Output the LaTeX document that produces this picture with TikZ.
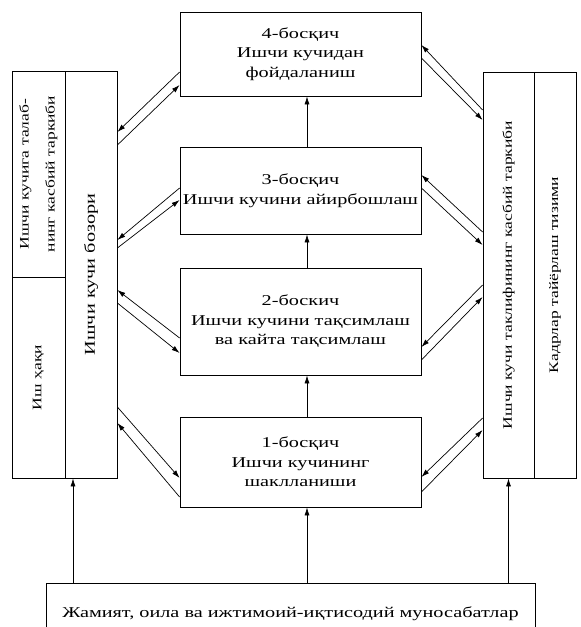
\documentclass[tikz,border=0pt]{standalone}
\usepackage{fontspec}
\setmainfont[FakeStretch=1.35]{Liberation Serif}
\usepackage{graphicx}
\usetikzlibrary{arrows.meta}

\tikzset{
  stagebox/.style={draw, line width=0.8pt, minimum width=241pt, inner sep=2pt,
    align=center, font=\fontsize{15}{19.5}\selectfont},
  sidebox/.style={draw, line width=0.8pt, inner sep=0pt,
    font=\fontsize{13}{16}\selectfont},
  link/.style={line width=0.7pt, -{Latex[length=8pt,width=5pt]}}
}

\begin{document}
\begin{tikzpicture}[x=1pt,y=-1pt]
  \useasboundingbox (0,0) rectangle (581,627);
  \clip (0,0) rectangle (581,627);
  % stages
  \node[stagebox, minimum height=84pt] (s4) at (300.5,54) {4-босқич\\Ишчи кучидан\\фойдаланиш};
  \node[stagebox, minimum height=87pt] (s3) at (300.5,190.5) {3-босқич\\Ишчи кучини айирбошлаш};
  \node[stagebox, minimum height=107pt] (s2) at (300.5,321.5) {2-боскич\\Ишчи кучини тақсимлаш\\ва кайта тақсимлаш};
  \node[stagebox, minimum height=90pt] (s1) at (300.5,462) {1-босқич\\Ишчи кучининг\\шаклланиши};
  \node[stagebox, minimum width=489pt, minimum height=62pt] (jamiyat) at (290.5,614)
    {Жамият, оила ва ижтимоий-иқтисодий муносабатлар};
  % left block
  \node[sidebox, minimum width=53pt, minimum height=206pt] (talab) at (38.5,174)
    {\rotatebox{90}{\begin{tabular}{@{}c@{}}Ишчи кучига талаб-\\[10pt]нинг касбий таркиби\end{tabular}}};
  \node[sidebox, minimum width=53pt, minimum height=201pt] (ishhaqi) at (38.5,377.5)
    {\rotatebox{90}{Иш ҳақи}};
  \node[sidebox, minimum width=52pt, minimum height=407pt, font=\fontsize{15}{18}\selectfont] (bozor) at (91,274.5)
    {\rotatebox{90}{Ишчи кучи бозори}};
  % right block
  \node[sidebox, minimum width=51pt, minimum height=406pt] (taklif) at (508.5,275)
    {\rotatebox{90}{Ишчи кучи таклифининг касбий таркиби}};
  \node[sidebox, minimum width=42pt, minimum height=406pt] (kadr) at (555,275)
    {\rotatebox{90}{Кадрлар тайёрлаш тизими}};

  \draw[link] ([xshift=6.5pt]s1.north) -- ([xshift=6.5pt]s2.south);
  \draw[link] ([xshift=6.5pt]s2.north) -- ([xshift=6.5pt]s3.south);
  \draw[link] ([xshift=6.5pt]s3.north) -- ([xshift=6.5pt]s4.south);

  \coordinate (j1) at ([xshift=-18pt]bozor.south);
  \coordinate (j2) at ([xshift=6.5pt]s1.south);
  \draw[link] (jamiyat.north -| j1) -- (j1);
  \draw[link] (jamiyat.north -| j2) -- (j2);
  \draw[link] (jamiyat.north -| taklif.south) -- (taklif.south);

  % left pairs
  \draw[link] ([yshift=-18pt]s4.west) -- ([yshift=142.5pt]bozor.east);
  \draw[link] ([yshift=129.5pt]bozor.east) -- ([yshift=-31pt]s4.west);
  \draw[link] ([yshift=2.5pt]s3.west) -- ([yshift=34.5pt]bozor.east);
  \draw[link] ([yshift=26.5pt]bozor.east) -- ([yshift=-9.5pt]s3.west);
  \draw[link] ([yshift=-16.5pt]s2.west) -- ([yshift=-15.5pt]bozor.east);
  \draw[link] ([yshift=-28.5pt]bozor.east) -- ([yshift=-31.5pt]s2.west);
  \draw[link] ([yshift=-132.5pt]bozor.east) -- ([yshift=-16pt]s1.west);
  \draw[link] ([yshift=-35pt]s1.west) -- ([yshift=-148.5pt]bozor.east);

  % right pairs
  \draw[link] ([yshift=165pt]taklif.west) -- ([yshift=9pt]s4.east);
  \draw[link] ([yshift=-4pt]s4.east) -- ([yshift=155pt]taklif.west);
  \draw[link] ([yshift=43pt]taklif.west) -- ([yshift=15.5pt]s3.east);
  \draw[link] ([yshift=2.5pt]s3.east) -- ([yshift=30pt]taklif.west);
  \draw[link] ([yshift=-10pt]taklif.west) -- ([yshift=-25.5pt]s2.east);
  \draw[link] ([yshift=-38.5pt]s2.east) -- ([yshift=-22pt]taklif.west);
  \draw[link] ([yshift=-143pt]taklif.west) -- ([yshift=-15pt]s1.east);
  \draw[link] ([yshift=-30pt]s1.east) -- ([yshift=-155pt]taklif.west);
\end{tikzpicture}
\end{document}
